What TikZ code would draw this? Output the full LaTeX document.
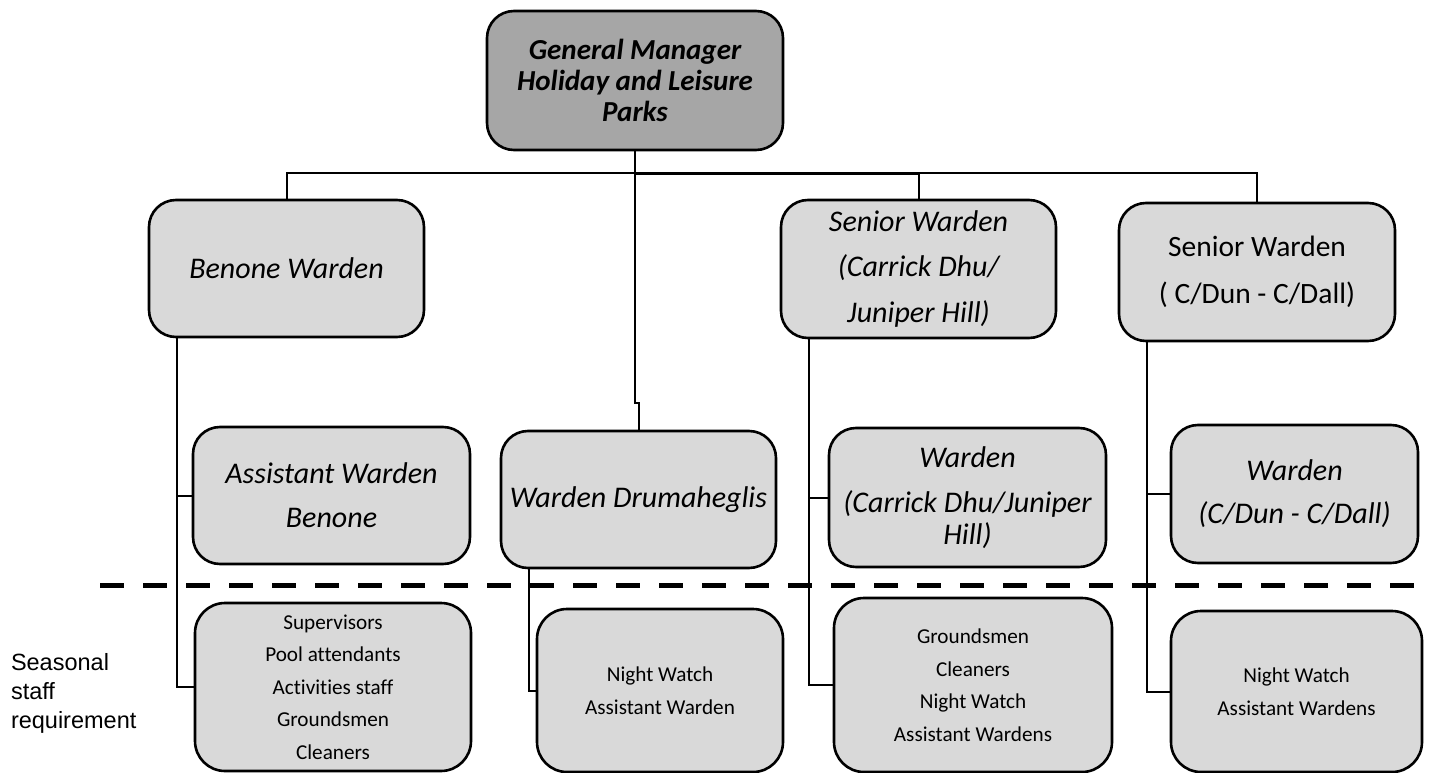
\documentclass[tikz,border=0pt]{standalone}
\usepackage{fontspec}
\setmainfont{Carlito}[Ligatures=NoCommon]
\newfontfamily\arialfont{Liberation Sans}
\definecolor{boxgray}{HTML}{D9D9D9}
\definecolor{headgray}{HTML}{A6A6A6}
\begin{document}
\begin{tikzpicture}[x=1pt, y=-1pt, line width=2pt,
	post/.style={draw, line width=2.6pt, rounded corners=27pt, fill=boxgray, align=center, inner sep=0pt, font=\fontsize{30}{46}\selectfont\itshape},
	head/.style={post, fill=headgray, font=\fontsize{29}{31}\selectfont\bfseries\itshape},
	staff/.style={post, rounded corners=30pt, font=\fontsize{21.2}{32.5}\selectfont}]
	\useasboundingbox (0,0) rectangle (1432,773);
	\node[head, minimum width=296, minimum height=139] (gm) at (635,80.5) {General Manager\\Holiday and Leisure\\Parks};
	\node[post, minimum width=275, minimum height=137] (benone) at (286.5,268.5) {Benone Warden};
	\node[post, minimum width=275, minimum height=138] (carrick) at (918.5,269) {Senior Warden\\(Carrick Dhu/\\Juniper Hill)};
	\node[post, minimum width=276, minimum height=138, font=\fontsize{29.5}{47}\selectfont] (cdun) at (1257,272) {Senior Warden\\( C/Dun - C/Dall)};
	\node[post, minimum width=277, minimum height=137, font=\fontsize{30}{44}\selectfont\itshape] (asben) at (331.5,495.5) {Assistant Warden\\Benone};
	\node[post, minimum width=275, minimum height=137] (drum) at (638.5,499.5) {Warden Drumaheglis};
	\node[post, minimum width=277, minimum height=139, font=\fontsize{30}{32}\selectfont\itshape] (wcarrick) at (967.5,497.5) {Warden\\[13pt](Carrick Dhu/Juniper\\Hill)};
	\node[post, minimum width=247, minimum height=138, font=\fontsize{30}{43}\selectfont\itshape] (wcdun) at (1294.5,494) {Warden\\(C/Dun - C/Dall)};
	\node[staff, minimum width=276, minimum height=168] (sben) at (333,687) {Supervisors\\Pool attendants\\Activities staff\\Groundsmen\\Cleaners};
	\node[staff, minimum width=246, minimum height=163] (sdrum) at (660,690.5) {Night Watch\\Assistant Warden};
	\node[staff, minimum width=278, minimum height=174] (scarrick) at (973,685) {Groundsmen\\Cleaners\\Night Watch\\Assistant Wardens};
	\node[staff, minimum width=251, minimum height=161] (scdun) at (1296.5,691.5) {Night Watch\\Assistant Wardens};
	\node[font=\arialfont\fontsize{23.5}{29}\selectfont, align=left, anchor=west, inner sep=0pt] (season) at (10,693) {Seasonal\\staff\\requirement};
	\draw (gm.south) -- ++(0,22) coordinate (bus);
	\draw (bus) -| (benone.north);
	\draw (bus) -| (cdun.north);
	\draw[line width=3.6pt] (bus) -- (bus -| carrick.north);
	\draw (bus -| carrick.north) -- (carrick.north);
	\draw (bus) -- ++(0,230) -| (drum.north);
	\draw ([xshift=-110pt]benone.south) |- (asben.west);
	\draw ([xshift=-110pt]benone.south) |- (sben.west);
	\draw ([xshift=-110pt]drum.south) |- (sdrum.west);
	\draw ([xshift=-110pt]carrick.south) |- (wcarrick.west);
	\draw ([xshift=-110pt]carrick.south) |- (scarrick.west);
	\draw ([xshift=-110pt]cdun.south) |- (wcdun.west);
	\draw ([xshift=-110pt]cdun.south) |- (scdun.west);
	\draw[line width=5pt, dash pattern=on 24pt off 19pt] (100,585) -- (1425,585);
\end{tikzpicture}
\end{document}
